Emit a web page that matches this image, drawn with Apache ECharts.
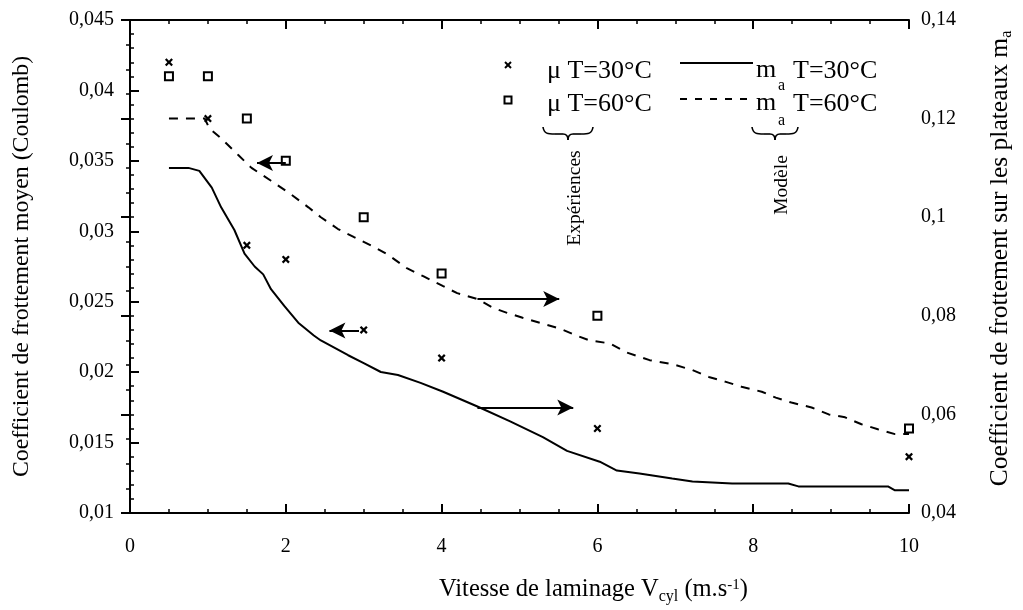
<!DOCTYPE html>
<html>
<head>
<meta charset="utf-8">
<script src="https://cdn.jsdelivr.net/npm/echarts@6/dist/echarts.min.js"></script>
<style>html,body{margin:0;padding:0;background:#fff}#c{width:1023px;height:610px}</style>
</head>
<body>
<div id="c"></div>
<script>
// ---- Data ----
var vExp = [0.5, 1, 1.5, 2, 3, 4, 6, 10];
var mu30 = [0.042, 0.038, 0.029, 0.028, 0.023, 0.021, 0.016, 0.014];
var mu60 = [0.041, 0.041, 0.038, 0.035, 0.031, 0.027, 0.024, 0.016];

var vModel30 = [0.5, 0.75, 0.89, 1.05, 1.17, 1.34, 1.47, 1.6, 1.71, 1.81, 1.98, 2.16, 2.36, 2.45, 2.8, 3.0, 3.22, 3.44, 3.73, 4.02, 4.46, 4.88, 5.3, 5.61, 6.03, 6.25, 6.54, 6.96, 7.22, 7.73, 8.45, 8.58, 9.73, 9.82, 10];
var ma30 = [0.110, 0.110, 0.1094, 0.106, 0.102, 0.0974, 0.0926, 0.090, 0.0884, 0.0854, 0.082, 0.0786, 0.076, 0.075, 0.072, 0.0704, 0.0686, 0.068, 0.0664, 0.0646, 0.0616, 0.0586, 0.0554, 0.0526, 0.0504, 0.0486, 0.048, 0.047, 0.0464, 0.046, 0.046, 0.0454, 0.0454, 0.0446, 0.0446];

var vModel60 = [0.5, 0.96, 1.02, 1.17, 1.39, 1.56, 1.81, 2.07, 2.29, 2.45, 2.67, 2.87, 3.13, 3.31, 3.56, 3.77, 4.02, 4.2, 4.46, 4.66, 4.84, 5.04, 5.3, 5.52, 5.73, 5.9, 6.16, 6.37, 6.67, 6.96, 7.22, 7.43, 7.65, 7.85, 8.11, 8.29, 8.49, 8.75, 8.97, 9.18, 9.39, 9.6, 9.82, 10];
var ma60 = [0.12, 0.12, 0.118, 0.116, 0.1126, 0.110, 0.1074, 0.1046, 0.102, 0.100, 0.0976, 0.096, 0.094, 0.0924, 0.0896, 0.088, 0.086, 0.0846, 0.0834, 0.0816, 0.0806, 0.0796, 0.0784, 0.0774, 0.076, 0.075, 0.0744, 0.0726, 0.071, 0.0702, 0.069, 0.0676, 0.0666, 0.0656, 0.0646, 0.0634, 0.0624, 0.0614, 0.060, 0.0594, 0.058, 0.057, 0.056, 0.056];

// annotation arrows (data coords, left axis): [xFrom, xTo, y]
var arrowsLeft = [[2.0, 1.63, 0.03485], [2.94, 2.56, 0.02295], [4.46, 5.51, 0.02519], [4.46, 5.69, 0.01749]];

var xTicks = {min: 0, max: 10, interval: 2};
var yLeftTicks = {min: 0.01, max: 0.045, interval: 0.005};
var yRightTicks = {min: 0.04, max: 0.14, interval: 0.02};

// ---- Build ----
function zip(a, b) { return a.map(function (v, i) { return [v, b[i]]; }); }
function fmt(v) { return String(+(+v).toFixed(4)).replace('.', ','); }

var FONT = 'Liberation Serif';
var crossPath = 'path://M2,0L5,3L8,0L10,2L7,5L10,8L8,10L5,7L2,10L0,8L3,5L0,2Z';

function axisBase(split, labelExtra) {
  return {
    axisLine: {show: true, lineStyle: {color: '#000', width: 2}},
    axisTick: {show: true, inside: true, length: 9, lineStyle: {color: '#000', width: 2}},
    minorTick: {show: true, splitNumber: split, length: 4, lineStyle: {color: '#000', width: 1.5}},
    splitLine: {show: false},
    axisLabel: Object.assign({color: '#000', fontFamily: FONT, fontSize: 20, formatter: fmt}, labelExtra || {})
  };
}

var richName = {
  sub: {fontFamily: FONT, fontSize: 16, color: '#000', verticalAlign: 'bottom', padding: [14, 0, 0, 0]},
  sup: {fontFamily: FONT, fontSize: 15, color: '#000', padding: [0, 0, 10, 0]}
};

function brace(x0, w, y0) {
  var m = x0 + w / 2, s = {stroke: '#000', fill: null, lineWidth: 1.6};
  return [
    {type: 'bezierCurve', shape: {x1: x0, y1: y0, cpx1: x0 + 1, cpy1: y0 + 7, cpx2: x0 + 5, cpy2: y0 + 7, x2: x0 + 12, y2: y0 + 7}, style: s},
    {type: 'line', shape: {x1: x0 + 12, y1: y0 + 7, x2: m - 5, y2: y0 + 7}, style: s},
    {type: 'bezierCurve', shape: {x1: m - 5, y1: y0 + 7, cpx1: m - 2, cpy1: y0 + 7, cpx2: m, cpy2: y0 + 9, x2: m, y2: y0 + 13}, style: s},
    {type: 'bezierCurve', shape: {x1: m, y1: y0 + 13, cpx1: m, cpy1: y0 + 9, cpx2: m + 2, cpy2: y0 + 7, x2: m + 5, y2: y0 + 7}, style: s},
    {type: 'line', shape: {x1: m + 5, y1: y0 + 7, x2: x0 + w - 12, y2: y0 + 7}, style: s},
    {type: 'bezierCurve', shape: {x1: x0 + w - 12, y1: y0 + 7, cpx1: x0 + w - 5, cpy1: y0 + 7, cpx2: x0 + w - 1, cpy2: y0 + 7, x2: x0 + w, y2: y0}, style: s}
  ];
}

function txt(x, y, t, size, extra) {
  return {type: 'text', x: x, y: y, style: Object.assign({text: t, font: size + 'px "Liberation Serif"', fill: '#000', verticalAlign: 'middle'}, extra || {})};
}

var graphics = [
  {type: 'line', shape: {x1: 505, y1: 62, x2: 511, y2: 68}, style: {stroke: '#000', lineWidth: 2}},
  {type: 'line', shape: {x1: 505, y1: 68, x2: 511, y2: 62}, style: {stroke: '#000', lineWidth: 2}},
  txt(547, 71, 'μ T=30°C', 26),
  {type: 'line', shape: {x1: 680, y1: 63, x2: 753, y2: 63}, style: {stroke: '#000', lineWidth: 2}},
  txt(756, 70, 'm', 26),
  txt(778, 86, 'a', 16),
  txt(793, 71, 'T=30°C', 26),
  {type: 'rect', shape: {x: 504.5, y: 96.5, width: 7, height: 7}, style: {stroke: '#000', fill: '#fff', lineWidth: 2}},
  txt(547, 104, 'μ T=60°C', 26),
  {type: 'line', shape: {x1: 680, y1: 99, x2: 753, y2: 99}, style: {stroke: '#000', lineWidth: 2, lineDash: [7, 8]}},
  txt(756, 103, 'm', 26),
  txt(778, 121, 'a', 16),
  txt(793, 104, 'T=60°C', 26),
  {type: 'text', x: 575, y: 198, rotation: Math.PI / 2, style: {text: 'Expériences', font: '19.5px "Liberation Serif"', fill: '#000', align: 'center', verticalAlign: 'middle'}},
  {type: 'text', x: 782, y: 185, rotation: Math.PI / 2, style: {text: 'Modèle', font: '19.5px "Liberation Serif"', fill: '#000', align: 'center', verticalAlign: 'middle'}}
].concat(brace(543, 50, 127)).concat(brace(752, 46, 127));

var option = {
  animation: false,
  backgroundColor: '#fff',
  grid: {left: 130, right: 110, top: 20, bottom: 89, containLabel: false},
  xAxis: [
    Object.assign(axisBase(4, {margin: 24}), {type: 'value', position: 'bottom', min: xTicks.min, max: xTicks.max, interval: xTicks.interval,
        name: 'Vitesse de laminage V{sub|cyl} (m.s{sup|-1})', nameLocation: 'middle', nameGap: 62,
        nameTextStyle: {fontFamily: FONT, fontSize: 24.5, color: '#000', rich: richName, padding: [0, 0, 0, 148]}}),
    Object.assign(axisBase(4, {show: false}), {type: 'value', position: 'top', min: xTicks.min, max: xTicks.max, interval: xTicks.interval})
  ],
  yAxis: [
    Object.assign(axisBase(5, {margin: 16}), {type: 'value', position: 'left', min: yLeftTicks.min, max: yLeftTicks.max, interval: yLeftTicks.interval,
        name: 'Coefficient de frottement moyen (Coulomb)', nameLocation: 'middle', nameGap: 96,
        nameTextStyle: {fontFamily: FONT, fontSize: 23.8, color: '#000'}}),
    Object.assign(axisBase(4, {margin: 12}), {type: 'value', position: 'right', min: yRightTicks.min, max: yRightTicks.max, interval: yRightTicks.interval,
        name: 'Coefficient de frottement sur les plateaux m{sub|a}', nameLocation: 'middle', nameGap: 76, nameRotate: 90,
        nameTextStyle: {fontFamily: FONT, fontSize: 25.5, color: '#000', rich: richName, padding: [0, 0, 0, 16]}})
  ],
  series: [
    {type: 'line', name: 'ma30', xAxisIndex: 0, yAxisIndex: 1, data: zip(vModel30, ma30), showSymbol: false,
     lineStyle: {color: '#000', width: 2}, silent: true},
    {type: 'line', name: 'ma60', xAxisIndex: 0, yAxisIndex: 1, data: zip(vModel60, ma60), showSymbol: false,
     lineStyle: {color: '#000', width: 2, type: [9, 8]}, silent: true},
    {type: 'scatter', name: 'mu30', xAxisIndex: 0, yAxisIndex: 0, data: zip(vExp, mu30), symbol: crossPath, symbolSize: 8,
     itemStyle: {color: '#000', opacity: 1}, silent: true,
     markLine: {silent: true, symbol: ['none', 'arrow'], symbolSize: [12, 16], label: {show: false},
       lineStyle: {color: '#000', width: 2, type: 'solid', opacity: 1},
       data: arrowsLeft.map(function (a) { return [{coord: [a[0], a[2]]}, {coord: [a[1], a[2]]}]; })}},
    {type: 'scatter', name: 'mu60', xAxisIndex: 0, yAxisIndex: 0, data: zip(vExp, mu60), symbol: 'rect', symbolSize: 8,
     itemStyle: {color: '#fff', borderColor: '#000', borderWidth: 2, opacity: 1}, silent: true}
  ],
  graphic: graphics
};

var chart = echarts.init(document.getElementById('c'), null, {renderer: 'canvas'});
chart.setOption(option);
</script>
</body>
</html>
